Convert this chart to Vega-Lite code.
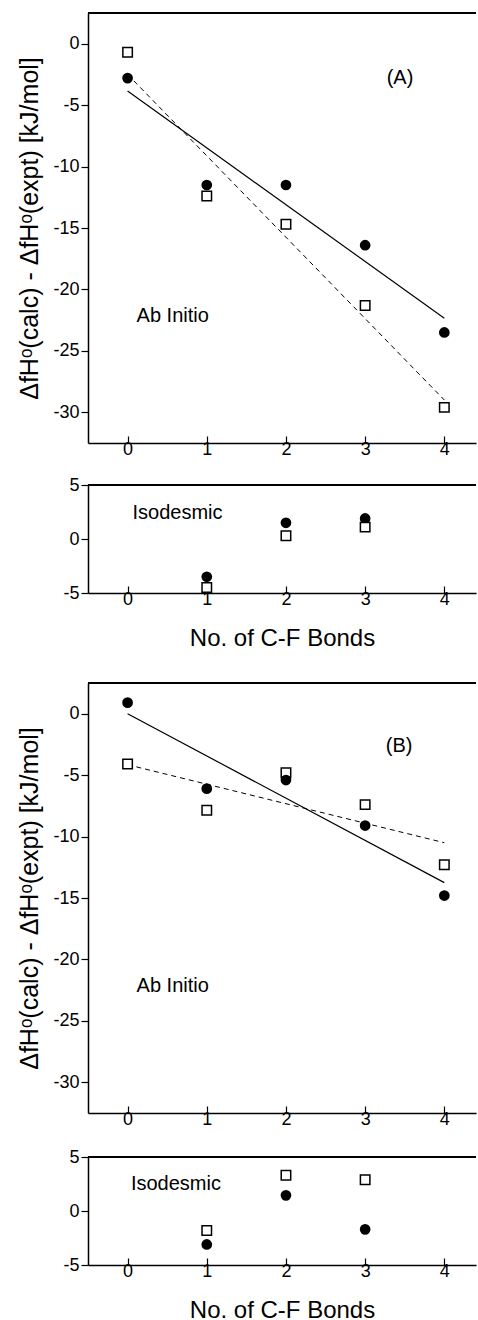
{
  "$schema": "https://vega.github.io/schema/vega-lite/v6.json",
  "padding": {"left": 17, "top": 12, "right": 0, "bottom": 0},
  "spacing": 32,
  "vconcat": [
    {
      "spacing": 18,
      "vconcat": [
        {
          "width": 388,
          "height": 430,
          "data": {"values": [
            {"x": 0, "y": -2.8, "series": "circle"},
            {"x": 1, "y": -11.5, "series": "circle"},
            {"x": 2, "y": -11.5, "series": "circle"},
            {"x": 3, "y": -16.4, "series": "circle"},
            {"x": 4, "y": -23.5, "series": "circle"},
            {"x": 0, "y": -0.7, "series": "square"},
            {"x": 1, "y": -12.4, "series": "square"},
            {"x": 2, "y": -14.7, "series": "square"},
            {"x": 3, "y": -21.3, "series": "square"},
            {"x": 4, "y": -29.6, "series": "square"},
            {"x": 0, "y": -3.85, "series": "fit_solid"},
            {"x": 4, "y": -22.35, "series": "fit_solid"},
            {"x": 0, "y": -2.5, "series": "fit_dashed"},
            {"x": 4, "y": -29.0, "series": "fit_dashed"},
            {"x": 3.44, "y": -2.8, "series": "label", "text": "(A)"},
            {"x": 0.57, "y": -22.2, "series": "label", "text": "Ab Initio"}
          ]},
          "encoding": {
            "x": {"field": "x", "type": "quantitative", "scale": {"domain": [-0.5, 4.4], "nice": false, "zero": false},
              "axis": {"title": null, "values": [0, 1, 2, 3, 4], "tickSize": -7, "labelPadding": 4}},
            "y": {"field": "y", "type": "quantitative", "scale": {"domain": [-32.5, 2.5], "nice": false, "zero": false},
              "axis": {"title": "ΔfHᵒ(calc) - ΔfHᵒ(expt)  [kJ/mol]", "values": [0, -5, -10, -15, -20, -25, -30], "labelExpr": "'' + datum.value", "tickSize": 7, "labelPadding": 2, "titlePadding": 10}}
          },
          "layer": [
            {"mark": {"type": "rule", "color": "black", "strokeWidth": 1.5}, "encoding": {"x": null, "y": {"datum": 2.5}}},
            {"transform": [{"filter": "datum.series == 'fit_solid'"}], "mark": {"type": "line", "color": "black", "strokeWidth": 1.2}},
            {"transform": [{"filter": "datum.series == 'fit_dashed'"}], "mark": {"type": "line", "color": "black", "strokeWidth": 1, "strokeDash": [5, 4]}},
            {"transform": [{"filter": "datum.series == 'circle'"}], "mark": {"type": "point", "shape": "circle", "filled": true, "color": "black", "size": 115, "opacity": 1}},
            {"transform": [{"filter": "datum.series == 'square'"}], "mark": {"type": "point", "shape": "square", "filled": false, "fill": "white", "fillOpacity": 1, "stroke": "black", "strokeWidth": 1.5, "size": 90, "opacity": 1}},
            {"transform": [{"filter": "datum.series == 'label'"}], "mark": {"type": "text", "fontSize": 20, "color": "black", "align": "center", "baseline": "middle"}, "encoding": {"text": {"field": "text"}}}
          ]
        },
        {
          "width": 388,
          "height": 108,
          "data": {"values": [
            {"x": 1, "y": -3.5, "series": "circle"},
            {"x": 2, "y": 1.5, "series": "circle"},
            {"x": 3, "y": 1.9, "series": "circle"},
            {"x": 1, "y": -4.5, "series": "square"},
            {"x": 2, "y": 0.3, "series": "square"},
            {"x": 3, "y": 1.1, "series": "square"},
            {"x": 0.63, "y": 2.4, "series": "label", "text": "Isodesmic"}
          ]},
          "encoding": {
            "x": {"field": "x", "type": "quantitative", "scale": {"domain": [-0.5, 4.4], "nice": false, "zero": false},
              "axis": {"title": "No. of C-F Bonds", "values": [0, 1, 2, 3, 4], "tickSize": -7, "labelPadding": 4, "titlePadding": 18, "titleFontSize": 24}},
            "y": {"field": "y", "type": "quantitative", "scale": {"domain": [-5, 5], "nice": false, "zero": false},
              "axis": {"title": null, "values": [5, 0, -5], "labelExpr": "'' + datum.value", "tickSize": 7, "labelPadding": 2}}
          },
          "layer": [
            {"mark": {"type": "rule", "color": "black", "strokeWidth": 1.5}, "encoding": {"x": null, "y": {"datum": 5}}},
            {"transform": [{"filter": "datum.series == 'circle'"}], "mark": {"type": "point", "shape": "circle", "filled": true, "color": "black", "size": 115, "opacity": 1}},
            {"transform": [{"filter": "datum.series == 'square'"}], "mark": {"type": "point", "shape": "square", "filled": false, "fill": "white", "fillOpacity": 1, "stroke": "black", "strokeWidth": 1.5, "size": 90, "opacity": 1}},
            {"transform": [{"filter": "datum.series == 'label'"}], "mark": {"type": "text", "fontSize": 20, "color": "black", "align": "center", "baseline": "middle"}, "encoding": {"text": {"field": "text"}}}
          ]
        }
      ]
    },
    {
      "spacing": 20,
      "vconcat": [
        {
          "width": 388,
          "height": 430,
          "data": {"values": [
            {"x": 0, "y": 0.9, "series": "circle"},
            {"x": 1, "y": -6.1, "series": "circle"},
            {"x": 2, "y": -5.4, "series": "circle"},
            {"x": 3, "y": -9.1, "series": "circle"},
            {"x": 4, "y": -14.8, "series": "circle"},
            {"x": 0, "y": -4.1, "series": "square"},
            {"x": 1, "y": -7.85, "series": "square"},
            {"x": 2, "y": -4.8, "series": "square"},
            {"x": 3, "y": -7.4, "series": "square"},
            {"x": 4, "y": -12.3, "series": "square"},
            {"x": 0, "y": 0.0, "series": "fit_solid"},
            {"x": 4, "y": -13.75, "series": "fit_solid"},
            {"x": 0, "y": -4.15, "series": "fit_dashed"},
            {"x": 4, "y": -10.5, "series": "fit_dashed"},
            {"x": 3.43, "y": -2.6, "series": "label", "text": "(B)"},
            {"x": 0.57, "y": -22.2, "series": "label", "text": "Ab Initio"}
          ]},
          "encoding": {
            "x": {"field": "x", "type": "quantitative", "scale": {"domain": [-0.5, 4.4], "nice": false, "zero": false},
              "axis": {"title": null, "values": [0, 1, 2, 3, 4], "tickSize": -7, "labelPadding": 4}},
            "y": {"field": "y", "type": "quantitative", "scale": {"domain": [-32.5, 2.5], "nice": false, "zero": false},
              "axis": {"title": "ΔfHᵒ(calc) - ΔfHᵒ(expt)  [kJ/mol]", "values": [0, -5, -10, -15, -20, -25, -30], "labelExpr": "'' + datum.value", "tickSize": 7, "labelPadding": 2, "titlePadding": 10}}
          },
          "layer": [
            {"mark": {"type": "rule", "color": "black", "strokeWidth": 1.5}, "encoding": {"x": null, "y": {"datum": 2.5}}},
            {"transform": [{"filter": "datum.series == 'fit_solid'"}], "mark": {"type": "line", "color": "black", "strokeWidth": 1.2}},
            {"transform": [{"filter": "datum.series == 'fit_dashed'"}], "mark": {"type": "line", "color": "black", "strokeWidth": 1, "strokeDash": [5, 4]}},
            {"transform": [{"filter": "datum.series == 'square'"}], "mark": {"type": "point", "shape": "square", "filled": false, "fill": "white", "fillOpacity": 1, "stroke": "black", "strokeWidth": 1.5, "size": 90, "opacity": 1}},
            {"transform": [{"filter": "datum.series == 'circle'"}], "mark": {"type": "point", "shape": "circle", "filled": true, "color": "black", "size": 115, "opacity": 1}},
            {"transform": [{"filter": "datum.series == 'label'"}], "mark": {"type": "text", "fontSize": 20, "color": "black", "align": "center", "baseline": "middle"}, "encoding": {"text": {"field": "text"}}}
          ]
        },
        {
          "width": 388,
          "height": 108,
          "data": {"values": [
            {"x": 1, "y": -3.1, "series": "circle"},
            {"x": 2, "y": 1.45, "series": "circle"},
            {"x": 3, "y": -1.7, "series": "circle"},
            {"x": 1, "y": -1.8, "series": "square"},
            {"x": 2, "y": 3.3, "series": "square"},
            {"x": 3, "y": 2.9, "series": "square"},
            {"x": 0.61, "y": 2.5, "series": "label", "text": "Isodesmic"}
          ]},
          "encoding": {
            "x": {"field": "x", "type": "quantitative", "scale": {"domain": [-0.5, 4.4], "nice": false, "zero": false},
              "axis": {"title": "No. of C-F Bonds", "values": [0, 1, 2, 3, 4], "tickSize": -7, "labelPadding": 4, "titlePadding": 18, "titleFontSize": 24}},
            "y": {"field": "y", "type": "quantitative", "scale": {"domain": [-5, 5], "nice": false, "zero": false},
              "axis": {"title": null, "values": [5, 0, -5], "labelExpr": "'' + datum.value", "tickSize": 7, "labelPadding": 2}}
          },
          "layer": [
            {"mark": {"type": "rule", "color": "black", "strokeWidth": 1.5}, "encoding": {"x": null, "y": {"datum": 5}}},
            {"transform": [{"filter": "datum.series == 'circle'"}], "mark": {"type": "point", "shape": "circle", "filled": true, "color": "black", "size": 115, "opacity": 1}},
            {"transform": [{"filter": "datum.series == 'square'"}], "mark": {"type": "point", "shape": "square", "filled": false, "fill": "white", "fillOpacity": 1, "stroke": "black", "strokeWidth": 1.5, "size": 90, "opacity": 1}},
            {"transform": [{"filter": "datum.series == 'label'"}], "mark": {"type": "text", "fontSize": 20, "color": "black", "align": "center", "baseline": "middle"}, "encoding": {"text": {"field": "text"}}}
          ]
        }
      ]
    }
  ],
  "config": {
    "font": "Liberation Sans",
    "view": {"stroke": null},
    "axis": {
      "grid": false,
      "domainColor": "black",
      "domainWidth": 1.5,
      "tickColor": "black",
      "tickWidth": 1.2,
      "labelColor": "black",
      "labelFont": "Liberation Sans",
      "labelFontSize": 18,
      "labelFlush": false,
      "labelOverlap": false,
      "titleColor": "black",
      "titleFont": "Liberation Sans",
      "titleFontSize": 25,
      "titleFontWeight": "normal"
    }
  }
}
